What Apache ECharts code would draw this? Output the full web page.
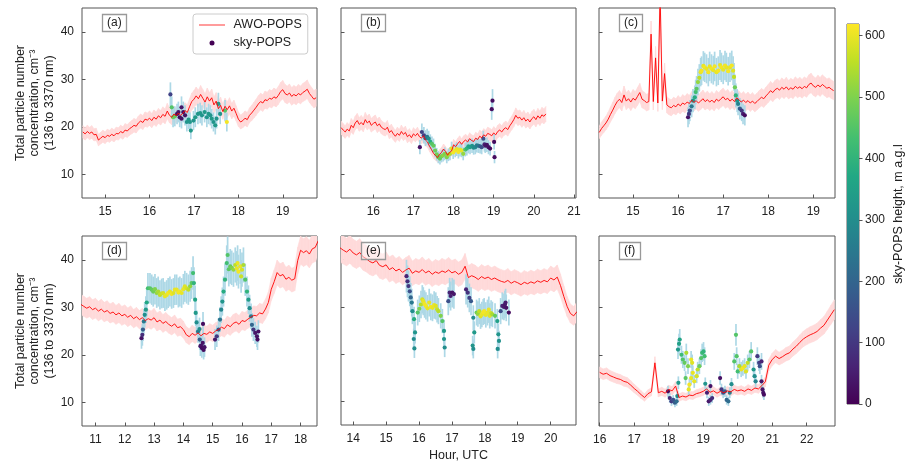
<!DOCTYPE html>
<html><head><meta charset="utf-8">
<script src="https://cdn.jsdelivr.net/npm/echarts@6/dist/echarts.min.js"></script>
<style>html,body{margin:0;padding:0;background:#fff}#c{width:906px;height:463px}</style>
</head><body><div id="c"></div>
<script>
// ---------- data ----------
const panelLabels = ['(a)','(b)','(c)','(d)','(e)','(f)'];
const xRanges = [[14.48,19.77],[15.195,21.05],[14.245,19.48],[10.54,18.56],[13.63,20.77],[15.98,22.82]];
const xTicks = [[15,16,17,18,19],[16,17,18,19,20,21],[15,16,17,18,19],[11,12,13,14,15,16,17,18],[14,15,16,17,18,19,20],[16,17,18,19,20,21,22]];
const yRange = [5,45];
const yTicks = [10,20,30,40];
const colorbarTicks = [0,100,200,300,400,500,600];
const heightMax = 619;
const awoStarts = [14.5, 15.2, 14.25, 10.5, 13.6, 16.0];
const awoSteps = [0.05, 0.05, 0.05, 0.1, 0.1, 0.1];
const awoRelErr = 0.07;
const skyRelErr = 0.095;

const awoA = [18.9,18.5,19.0,18.6,18.9,18.3,18.4,17.2,17.6,18.0,
17.7,18.2,18.0,18.4,18.1,18.6,18.5,19.0,18.7,19.3,
19.1,19.6,19.9,20.3,20.1,20.8,21.2,20.9,21.6,21.4,
21.8,21.3,22.0,21.6,22.3,21.9,22.6,22.2,23.3,22.4,
22.0,22.7,22.3,22.9,22.4,22.8,23.4,23.0,24.2,25.3,
25.8,26.5,25.9,26.8,26.0,25.2,26.3,25.4,26.1,24.6,
25.4,23.8,24.5,23.2,24.3,23.6,24.4,23.3,23.9,22.8,
21.6,21.0,21.3,21.8,21.5,22.4,22.9,23.5,24.1,24.8,
25.3,25.0,25.7,25.5,26.0,25.8,26.3,26.0,26.6,27.4,
27.8,27.0,26.7,27.1,26.4,26.8,26.5,27.0,26.7,27.2,
27.5,27.9,27.0,26.4,25.8,26.1];
const awoB = [19.8,19.3,18.9,19.5,19.1,20.3,19.8,20.8,21.3,20.5,
20.9,20.4,21.5,20.8,21.2,20.3,20.7,21.0,20.2,20.6,
19.9,19.6,19.4,19.9,18.8,19.2,18.5,18.0,18.6,18.2,
19.0,18.4,18.8,17.9,18.3,17.7,18.5,18.1,18.6,17.9,
17.6,18.1,17.2,16.8,15.9,15.2,14.4,13.9,13.5,14.2,
14.6,15.3,14.8,14.0,14.6,14.9,16.2,15.8,16.4,16.9,
16.3,16.9,17.2,16.8,17.5,17.1,16.9,17.6,17.3,18.0,
17.7,18.3,18.0,18.6,18.4,18.1,18.7,18.3,19.0,19.3,
18.9,19.5,19.8,19.4,20.2,20.8,21.5,22.4,21.8,22.0,
21.4,21.9,21.2,21.6,21.0,21.7,22.1,21.5,22.3,21.8,
22.5,22.2,22.7];
const awoC = [18.8,19.6,20.2,20.8,21.6,22.6,23.5,24.5,25.3,25.8,
25.1,26.7,25.4,25.9,25.2,26.0,25.6,26.4,27.2,25.8,
25.5,25.1,25.3,39.5,25.3,34.5,25.0,48.0,25.4,31.2,
24.6,24.2,24.0,24.5,24.2,24.8,24.4,25.0,24.7,25.2,
24.9,25.6,25.1,25.5,25.0,25.4,25.9,25.3,25.7,25.2,
25.6,25.1,25.8,25.4,25.9,26.3,25.7,26.0,25.4,25.8,
25.3,26.1,25.7,25.2,25.6,25.1,25.5,25.0,25.4,24.9,
25.3,25.8,26.2,25.9,26.5,27.0,27.6,27.2,27.8,28.1,
27.7,28.3,27.9,28.4,27.8,28.2,27.9,28.5,28.1,28.4,
28.0,28.5,28.2,28.9,29.2,28.6,28.3,28.8,28.4,28.9,
28.5,28.1,28.3,27.9,27.6];
const awoD = [30.6,30.2,29.8,30.1,29.5,29.8,29.2,29.6,29.0,29.3,
28.7,29.0,28.4,28.8,28.2,28.5,27.9,28.3,27.6,28.0,
27.4,27.8,27.2,27.6,27.3,27.8,26.9,27.3,26.6,27.0,
26.4,26.0,26.5,25.7,25.9,25.3,24.2,23.8,24.5,24.1,
24.6,24.0,24.5,24.3,24.8,24.5,25.0,25.3,25.8,25.5,
26.3,25.9,26.6,26.9,26.4,27.2,27.0,27.5,27.9,28.3,
28.2,28.8,28.6,29.6,31.0,33.8,35.4,37.3,36.6,36.9,
35.9,36.3,35.7,36.0,39.8,42.0,41.5,41.9,41.2,42.3,
42.6,44.0];
const awoE = [42.5,42.0,41.6,42.2,41.4,41.0,41.5,40.6,40.2,39.6,
39.3,39.8,38.8,38.5,38.9,37.9,38.3,37.6,38.0,37.3,
37.8,38.2,37.1,37.6,37.3,37.9,37.2,37.6,36.9,37.4,
37.1,37.6,37.3,37.8,37.2,37.5,36.9,37.3,38.6,36.2,
36.6,36.3,35.8,36.4,36.0,36.3,35.8,36.1,35.7,35.4,
35.2,35.6,35.0,35.4,35.1,34.7,35.2,34.9,35.3,35.0,
35.5,35.2,35.6,35.3,36.1,35.7,36.3,34.5,32.2,30.1,
28.6,28.1,29.0];
const awoF = [16.3,15.9,16.1,15.6,15.3,15.0,14.8,14.4,14.2,13.6,
12.9,12.3,11.6,11.0,11.8,12.2,18.3,12.0,12.3,11.9,
12.7,12.4,13.4,11.0,11.3,11.1,11.5,11.4,11.8,12.0,
12.3,12.8,12.1,12.4,11.9,12.3,12.0,12.4,12.2,12.7,
12.4,12.6,12.3,12.8,12.5,13.0,12.8,13.5,14.3,17.8,
19.0,19.7,19.2,19.6,20.1,20.4,21.2,21.8,22.6,23.3,
23.8,24.2,24.5,24.9,25.6,26.2,27.3,28.4,29.5];

// sky-POPS: [hour, concentration, height]
const skyA = [[16.47,26.8,120],[16.50,24.1,450],[16.53,22.0,480],[16.57,22.2,470],[16.62,22.7,20],[16.65,23.1,30],[16.68,22.0,20],[16.72,24.1,40],[16.72,21.7,30],[16.76,23.1,20],[16.80,22.4,30],[16.84,21.0,320],[16.88,21.5,330],[16.91,21.0,320],[16.93,19.2,330],[16.99,21.3,320],[17.03,22.0,330],[17.09,22.7,320],[17.14,22.9,330],[17.18,22.4,320],[17.24,23.1,330],[17.29,22.0,320],[17.33,22.7,330],[17.37,22.4,320],[17.40,21.7,330],[17.44,21.0,320],[17.48,20.3,330],[17.51,21.7,320],[17.55,24.8,330],[17.59,22.7,320],[17.70,23.4,450],[17.74,21.0,610]];
const skyB = [[17.16,15.7,30],[17.21,18.9,120],[17.26,18.2,110],[17.30,17.6,200],[17.34,17.9,250],[17.38,17.5,300],[17.42,16.8,380],[17.46,16.4,450],[17.50,16.0,470],[17.54,15.0,480],[17.58,14.2,490],[17.62,13.6,480],[17.66,13.3,470],[17.70,13.8,490],[17.74,14.0,510],[17.78,14.3,500],[17.83,13.6,500],[17.87,14.1,530],[17.91,14.3,550],[17.95,15.4,600],[17.99,14.6,610],[18.04,15.0,610],[18.08,15.3,600],[18.12,14.7,610],[18.16,15.2,600],[18.20,15.0,600],[18.24,14.3,520],[18.29,15.2,450],[18.33,15.4,400],[18.37,15.9,370],[18.41,15.7,350],[18.46,16.0,320],[18.50,15.6,300],[18.54,15.7,290],[18.58,16.1,260],[18.62,16.0,250],[18.66,15.9,200],[18.70,15.7,150],[18.74,17.5,150],[18.77,16.3,60],[18.79,16.0,40],[18.83,16.2,30],[18.87,15.7,30],[18.91,15.4,20],[18.97,25.5,20],[18.95,23.7,20],[19.01,16.8,20],[19.02,13.6,20]];
const skyC = [[16.22,22.0,30],[16.24,22.7,100],[16.26,23.4,150],[16.30,24.3,250],[16.33,25.5,320],[16.37,26.2,380],[16.39,27.3,430],[16.41,28.0,460],[16.44,29.4,520],[16.47,30.3,560],[16.50,31.5,600],[16.52,31.8,610],[16.56,32.8,600],[16.59,32.5,610],[16.63,32.2,600],[16.67,31.5,610],[16.70,32.7,600],[16.74,32.2,610],[16.78,31.9,600],[16.81,32.7,610],[16.85,31.5,600],[16.89,31.8,610],[16.93,33.0,600],[16.96,32.5,610],[17.00,32.0,600],[17.04,32.9,610],[17.07,32.5,600],[17.11,31.7,610],[17.15,32.5,600],[17.19,32.9,610],[17.22,31.8,590],[17.24,30.5,560],[17.26,28.3,480],[17.28,26.6,400],[17.31,25.5,320],[17.33,24.8,270],[17.37,23.8,180],[17.41,23.4,100],[17.44,22.7,50],[17.48,22.4,20]];
const skyD = [[12.57,23.5,30],[12.60,24.2,80],[12.62,25.3,180],[12.65,27.0,250],[12.68,28.4,300],[12.72,29.5,330],[12.75,31.0,370],[12.79,34.0,430],
[12.86,34.0,450],[12.92,33.7,470],[12.97,33.3,480],[13.03,33.8,500],[13.09,33.0,520],[13.14,33.3,540],[13.20,32.6,560],[13.26,32.9,570],[13.31,33.0,580],[13.37,32.3,600],[13.43,32.6,600],[13.48,33.0,610],[13.54,33.3,600],[13.60,32.8,610],[13.66,33.0,590],[13.71,33.7,600],[13.77,33.7,600],[13.83,33.1,610],[13.88,33.3,610],[13.94,33.0,600],[14.00,33.8,600],[14.05,34.4,590],[14.11,34.0,580],[14.17,33.7,560],[14.23,34.4,520],[14.28,35.1,460],
[14.33,37.2,430],[14.36,35.1,400],[14.40,31.6,360],[14.42,28.8,330],[14.45,26.8,300],[14.50,24.9,250],[14.55,25.4,300],[14.56,23.2,180],[14.58,21.8,60],[14.67,26.5,20],[14.60,21.9,30],[14.63,21.4,20],[14.66,22.5,30],[14.69,21.0,20],[14.72,21.6,30],
[15.08,23.2,40],[15.14,23.9,100],[15.20,25.3,170],[15.25,27.4,240],[15.29,29.5,280],[15.33,31.2,320],[15.37,33.3,380],[15.42,35.8,400],[15.48,39.3,430],[15.51,41.0,450],
[15.55,38.0,460],[15.60,38.6,470],[15.65,38.3,500],[15.71,37.9,520],[15.77,38.9,560],[15.82,38.2,600],[15.85,39.3,600],[15.88,37.5,610],[15.94,38.6,600],[15.97,36.5,570],[16.00,37.9,580],[16.05,38.9,540],
[16.11,35.8,450],[16.17,33.3,400],[16.22,31.6,340],[16.26,29.8,300],[16.31,28.1,250],[16.34,26.3,200],[16.39,25.3,100],[16.45,24.6,40],[16.51,23.9,30],[16.53,23.2,20],[16.56,24.9,30]];
const skyE = [[15.62,36.5,60],[15.65,35.4,80],[15.68,34.4,100],[15.72,33.3,150],[15.75,32.0,200],[15.78,30.9,250],[15.80,29.1,300],[15.84,23.2,300],[15.86,21.2,300],[15.88,24.6,320],[15.85,27.4,380],[15.96,28.8,450],[16.01,29.6,500],[16.06,30.5,550],[16.10,31.6,580],[16.13,31.2,600],[16.17,30.6,610],[16.21,30.2,610],[16.26,29.7,600],[16.31,30.9,600],[16.36,30.0,610],[16.41,29.8,600],[16.46,30.4,600],[16.51,30.2,590],[16.55,29.5,570],[16.59,29.1,550],[16.66,28.1,500],[16.71,27.0,450],[16.76,24.9,330],[16.76,23.2,320],[16.78,21.4,300],[16.89,31.2,150],[16.93,33.0,60],[16.96,32.3,50],[17.01,33.0,30],[17.06,32.7,40],[17.43,33.7,60],[17.48,33.0,90],[17.53,31.9,120],[17.58,31.2,170],[17.63,21.8,320],[17.65,21.1,300],[17.65,27.7,300],[17.68,24.6,330],[17.75,28.8,480],[17.79,28.5,520],[17.83,29.1,560],[17.87,28.0,590],[17.91,28.4,600],[17.95,28.9,610],[17.98,29.1,610],[18.03,28.3,600],[18.08,28.8,600],[18.12,29.4,600],[18.15,28.1,590],[18.19,28.7,570],[18.23,28.4,540],[18.31,28.1,470],[18.38,27.0,350],[18.41,24.2,320],[18.43,22.8,310],[18.39,21.1,300],[18.48,29.1,150],[18.53,30.2,60],[18.58,30.0,50],[18.61,30.5,40],[18.63,30.9,50],[18.65,29.8,30],[18.73,28.8,20]];
const skyF = [[17.98,12.3,20],[18.03,10.9,80],[18.08,10.2,100],[18.13,10.5,150],[18.18,9.9,180],[18.23,10.2,220],[18.25,11.3,300],[18.28,14.1,330],[18.27,21.1,330],[18.30,22.3,350],[18.32,23.2,360],[18.37,20.0,420],[18.41,19.0,450],[18.46,18.3,470],[18.49,15.1,460],[18.51,20.4,540],[18.56,17.6,500],[18.58,12.7,600],[18.60,13.7,610],[18.65,15.1,600],[18.65,19.0,600],[18.68,18.3,590],[18.70,16.2,600],[18.74,14.4,600],[18.81,15.5,580],[18.84,16.9,560],[18.89,17.6,480],[18.94,19.3,450],[18.97,20.4,420],[19.01,20.7,400],[19.04,19.7,430],[19.06,13.9,320],[19.11,12.0,50],[19.16,10.2,40],[19.21,10.5,60],[19.21,13.4,30],[19.26,10.9,80],[19.49,15.1,30],[19.53,12.7,100],[19.58,12.0,150],[19.63,12.3,180],[19.68,10.5,200],[19.73,10.2,220],[19.77,12.0,260],[19.82,13.8,300],[19.90,18.6,450],[19.95,24.2,450],[19.97,19.7,450],[20.00,16.5,430],[20.05,17.6,540],[20.10,16.9,600],[20.15,17.2,610],[20.20,17.6,600],[20.24,16.5,590],[20.29,18.3,560],[20.34,19.0,460],[20.39,20.7,450],[20.46,16.9,330],[20.49,15.5,300],[20.52,14.4,280],[20.57,19.7,100],[20.62,18.3,120],[20.64,17.6,150],[20.69,18.6,60],[20.69,14.4,40],[20.72,12.7,30],[20.74,12.0,30],[20.76,11.6,20]];

const awoSets = [awoA, awoB, awoC, awoD, awoE, awoF];
const skySets = [skyA, skyB, skyC, skyD, skyE, skyF];

// ---------- layout / style ----------
const gridPos = [[82,8,235,190],[341,8,235,190],[599,8,236,190],[82,236,235,190],[341,236,235,190],[599,236,236,190]];
const viridis = ['#440154','#482475','#414487','#355f8d','#2a788e','#21918c','#22a884','#44bf70','#7ad151','#bddf26','#fde725'];
const FONT = 'Liberation Sans, Arial, sans-serif';
const TXT = '#222';
const SPINE = '#555';
const BAND = '#ffdada';
const yTitle = 'Total particle number\nconcentration, cm\u207B\u00B3\n(136 to 3370 nm)';

const grids = [], xAxes = [], yAxes = [], series = [], titles = [];
const scatterIdx = [];

gridPos.forEach((g, i) => {
  grids.push({left:g[0], top:g[1], width:g[2], height:g[3], show:true, borderColor:SPINE, borderWidth:1, backgroundColor:'transparent'});
  xAxes.push({
    gridIndex:i, type:'value', min:xRanges[i][0], max:xRanges[i][1],
    axisLine:{show:false}, splitLine:{show:false},
    axisTick:{show:true, inside:true, length:3.5, customValues:xTicks[i], lineStyle:{color:SPINE}},
    axisLabel:{customValues:xTicks[i], margin:8, fontFamily:FONT, fontSize:12, color:TXT},
    name: i === 4 ? 'Hour, UTC' : '', nameLocation:'middle', nameGap:24,
    nameTextStyle:{fontFamily:FONT, fontSize:12.5, color:TXT, verticalAlign:'top'}
  });
  const showY = (i % 3 === 0);
  yAxes.push({
    gridIndex:i, type:'value', min:yRange[0], max:yRange[1],
    axisLine:{show:false}, splitLine:{show:false},
    axisTick:{show:true, inside:true, length:3.5, customValues:yTicks, lineStyle:{color:SPINE}},
    axisLabel:{show:showY, customValues:yTicks, margin:8, fontFamily:FONT, fontSize:12, color:TXT},
    name: showY ? yTitle : '', nameLocation:'middle', nameRotate:90, nameGap:25,
    nameTextStyle:{fontFamily:FONT, fontSize:12.5, color:TXT, lineHeight:14.5, align:'center'}
  });
  titles.push({
    text: panelLabels[i], left: g[0] + 20, top: g[1] + 6,
    padding:[3,5,3,5], borderColor:'#999', borderWidth:1.3, backgroundColor:'rgba(255,255,255,0.5)',
    textStyle:{fontFamily:FONT, fontSize:12, fontWeight:'normal', color:TXT}
  });

  const vals = awoSets[i];
  const t0 = awoStarts[i], dt = awoSteps[i];
  const tAt = k => Math.round((t0 + k * dt) * 1000) / 1000;
  const line = vals.map((v,k) => [tAt(k), v]);
  // uncertainty band, segment by segment: [t, lo, hi, tNext, loNext, hiNext]
  const segs = [];
  for (let k = 0; k < line.length - 1; k++) {
    const a = line[k], b = line[k+1];
    segs.push([a[0], a[1]*(1-awoRelErr), a[1]*(1+awoRelErr), b[0], b[1]*(1-awoRelErr), b[1]*(1+awoRelErr)]);
  }
  series.push({
    type:'custom', name:'band'+i, xAxisIndex:i, yAxisIndex:i, silent:true, clip:true,
    encode:{x:[0,3], y:[1,2,4,5]}, data: segs,
    renderItem: (params, api) => {
      const p1 = api.coord([api.value(0), api.value(1)]);
      const p2 = api.coord([api.value(3), api.value(4)]);
      const p3 = api.coord([api.value(3), api.value(5)]);
      const p4 = api.coord([api.value(0), api.value(2)]);
      return {type:'polygon', shape:{points:[p1,p2,p3,p4]}, style:{fill:BAND, stroke:BAND, lineWidth:0.6}};
    }
  });
  series.push({
    type:'line', name:'AWO-POPS', xAxisIndex:i, yAxisIndex:i, symbol:'none', showSymbol:false, silent:true,
    color:'#ff0000', lineStyle:{color:'#ff0000', width:0.9},
    data: line
  });
  series.push({
    type:'custom', name:'err'+i, xAxisIndex:i, yAxisIndex:i, silent:true, clip:true,
    data: skySets[i],
    renderItem: (params, api) => {
      const t = api.value(0), v = api.value(1);
      const p1 = api.coord([t, v * (1 - skyRelErr)]);
      const p2 = api.coord([t, v * (1 + skyRelErr)]);
      return {type:'line', shape:{x1:p1[0], y1:p1[1], x2:p2[0], y2:p2[1]}, style:{stroke:'#add8e6', lineWidth:1.7}};
    }
  });
  scatterIdx.push(series.length);
  series.push({
    type:'scatter', name:'sky-POPS', xAxisIndex:i, yAxisIndex:i, silent:true,
    symbolSize:4.2, itemStyle:{opacity:1}, data: skySets[i]
  });
});

// colorbar
grids.push({left:847, top:24, width:12, height:380, show:true, borderColor:'#333', borderWidth:0.8, backgroundColor:'transparent'});
xAxes.push({gridIndex:6, type:'category', data:['h'], show:false});
yAxes.push({
  gridIndex:6, type:'value', min:0, max:heightMax, position:'right',
  axisLine:{show:false}, splitLine:{show:false},
  axisTick:{show:true, length:3.5, customValues:colorbarTicks, lineStyle:{color:SPINE}},
  axisLabel:{customValues:colorbarTicks, margin:6, fontFamily:FONT, fontSize:12, color:TXT},
  name:'sky-POPS height, m a.g.l', nameLocation:'middle', nameRotate:90, nameGap:33,
  nameTextStyle:{fontFamily:FONT, fontSize:12.5, color:TXT}
});
series.push({
  type:'bar', name:'colorbar', xAxisIndex:6, yAxisIndex:6, silent:true, barWidth:'100%',
  data:[heightMax],
  itemStyle:{color: new echarts.graphic.LinearGradient(0,1,0,0, viridis.map((c,k)=>({offset:k/(viridis.length-1), color:c})))}
});

const chart = echarts.init(document.getElementById('c'), null, {renderer:'canvas'});
chart.setOption({
  animation:false,
  backgroundColor:'#fff',
  title: titles,
  grid: grids, xAxis: xAxes, yAxis: yAxes, series: series,
  legend: {
    left:193, top:14, orient:'vertical', itemGap:4, itemWidth:26, itemHeight:5,
    padding:[4,6,4,6], borderColor:'#ccc', borderWidth:1, borderRadius:3, backgroundColor:'#fff',
    formatter: n => ' ' + n,
    textStyle:{fontFamily:FONT, fontSize:12.5, color:TXT, lineHeight:14},
    data:[
      {name:'AWO-POPS', icon:'path://M0,0 L40,0 L40,1.2 L0,1.2 Z', itemStyle:{color:'#ff0000'}},
      {name:'sky-POPS', icon:'circle', itemStyle:{color:'#440154'}}
    ],
    selectedMode:false
  },
  visualMap: {
    type:'continuous', show:false, min:0, max:heightMax, dimension:2, seriesIndex:scatterIdx,
    inRange:{color:viridis}
  }
});
</script></body></html>
